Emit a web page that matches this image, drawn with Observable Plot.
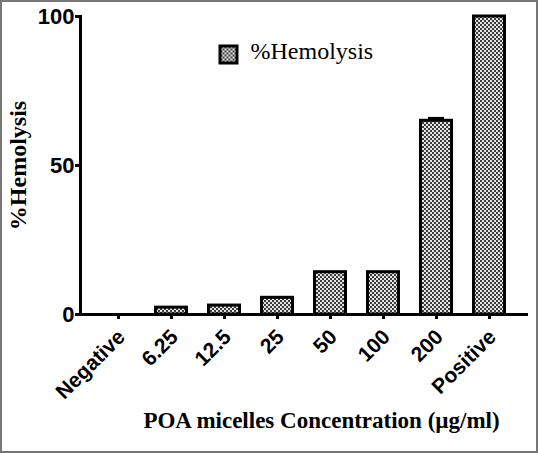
<!DOCTYPE html>
<html><head><meta charset="utf-8">
<script src="https://cdn.jsdelivr.net/npm/d3@7"></script>
<script src="https://cdn.jsdelivr.net/npm/@observablehq/plot@0.6"></script>
<style>
body{margin:0;background:#fff}
#wrap{position:relative;width:538px;height:453px;overflow:hidden}
#border{position:absolute;left:0;top:0;width:538px;height:453px;box-sizing:border-box;border:2px solid #777;pointer-events:none}
</style>
</head><body><div id="wrap"><div id="border"></div></div>
<script>
const categories = ["Negative", "6.25", "12.5", "25", "50", "100", "200", "Positive"];
const hemolysis = [0, 2.3, 3.0, 5.6, 14.2, 14.2, 65, 100];
const errors = [0, 0, 0, 0, 0, 0, 0.8, 0];
const yTicks = [0, 50, 100];
const yLabel = "%Hemolysis";
const xLabel = "POA micelles Concentration (µg/ml)";
const legendLabel = "%Hemolysis";

const data = categories.map((c, i) => ({c, v: hemolysis[i], e: errors[i]}));
const errData = data.filter(d => d.e > 0);
const pat = "url(#checker)";

const chart = Plot.plot({
  width: 538, height: 453,
  marginLeft: 80, marginRight: 10, marginTop: 16, marginBottom: 139,
  style: {background: "transparent", overflow: "visible", color: "#000"},
  x: {domain: categories, padding: 0.35, label: null},
  y: {domain: [0, 100], label: null},
  marks: [
    Plot.barY(data, {x: "c", y: "v", fill: pat, stroke: "#000", strokeWidth: 3, insetLeft: 1.5, insetRight: 1.5}),
    Plot.ruleX(errData, {x: "c", y1: "v", y2: d => d.v + d.e, stroke: "#000", strokeWidth: 3}),
    Plot.tickY(errData, {x: "c", y: d => d.v + d.e, stroke: "#000", strokeWidth: 3, insetLeft: 9, insetRight: 9}),
    Plot.ruleY([0], {stroke: "#000", strokeWidth: 3}),
    Plot.frame({anchor: "left", stroke: "#000", strokeWidth: 3}),
    Plot.axisY({ticks: yTicks, tickSize: 5, tickPadding: 1, fontSize: 22, fontWeight: "bold", fontFamily: "Liberation Sans", label: null, strokeWidth: 3}),
    Plot.axisX({tickSize: 5, tickFormat: () => "", label: null, strokeWidth: 3}),
    Plot.axisX({tickSize: 0, tickRotate: -45, tickPadding: 3, dx: 3, dy: 16, fontSize: 21, fontWeight: "bold", fontFamily: "Liberation Sans", label: null}),
    Plot.text([yLabel], {text: d => d, frameAnchor: "left", dx: -62, rotate: -90, textAnchor: "middle", fontSize: 24, fontWeight: "bold", fontFamily: "Liberation Serif", lineAnchor: "middle"}),
    Plot.text([xLabel], {text: d => d, frameAnchor: "bottom", dx: 17, dy: 106, fontSize: 23, fontWeight: "bold", fontFamily: "Liberation Serif", lineAnchor: "middle"}),
    Plot.dot([legendLabel], {frameAnchor: "top-left", dx: 148, dy: 38, symbol: "square", r: 9.6, fill: pat, stroke: "#000", strokeWidth: 3}),
    Plot.text([legendLabel], {text: d => d, frameAnchor: "top-left", dx: 170, dy: 35, textAnchor: "start", lineAnchor: "middle", fontSize: 24, fontFamily: "Liberation Serif"})
  ]
});

d3.select(chart).insert("defs", ":first-child").html(
  '<pattern id="checker" width="4" height="4" patternUnits="userSpaceOnUse">' +
  '<rect width="4" height="4" fill="#e4e4e4"/>' +
  '<rect width="2" height="2" fill="#3c3c3c"/>' +
  '<rect x="2" y="2" width="2" height="2" fill="#3c3c3c"/>' +
  '</pattern>'
);
document.getElementById("wrap").insertBefore(chart, document.getElementById("border"));
</script>
</body></html>
